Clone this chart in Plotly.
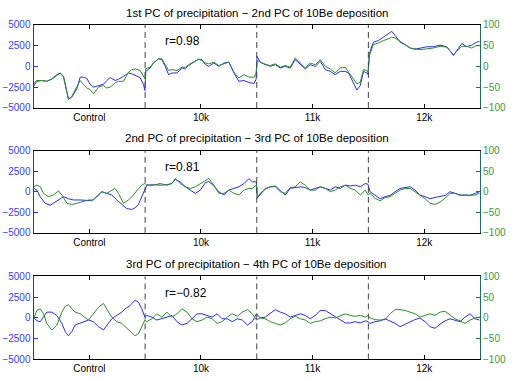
import plotly.graph_objects as go

# ---------------- data ----------------
CATEGORIES = ["Control", "10k", "11k", "12k"]
LEFT_TICKS = [-5000, -2500, 0, 2500, 5000]
RIGHT_TICKS = [-100, -50, 0, 50, 100]
TITLES = ["1st PC of precipitation \u2212 2nd PC of 10Be deposition",
          "2nd PC of precipitation \u2212 3rd PC of 10Be deposition",
          "3rd PC of precipitation \u2212 4th PC of 10Be deposition"]
R_LABELS = ["r=0.98", "r=0.81", "r=\u22120.82"]

# panel 1 (time in segment units: 0-1 Control, 1-2 10k, 2-3 11k, 3-4 12k)
p1_x = [0.0, 0.03, 0.075, 0.12, 0.164, 0.209, 0.239, 0.269, 0.299, 0.313, 0.343, 0.388, 0.418, 0.448, 0.478,
        0.507, 0.537, 0.582, 0.627, 0.657, 0.687, 0.731, 0.761, 0.806, 0.851, 0.881, 0.91, 0.955, 0.985, 0.998,
        1.006, 1.045, 1.075, 1.12, 1.15, 1.18, 1.21, 1.24, 1.285, 1.33, 1.36, 1.39, 1.435, 1.48, 1.51, 1.54,
        1.57, 1.616, 1.66, 1.706, 1.75, 1.796, 1.84, 1.886, 1.93, 1.976, 1.994,
        2.003, 2.031, 2.076, 2.121, 2.166, 2.211, 2.255, 2.3, 2.345, 2.39, 2.435, 2.479, 2.524, 2.569, 2.614,
        2.659, 2.703, 2.748, 2.793, 2.823, 2.867, 2.897, 2.927, 2.957, 2.987, 2.997,
        3.009, 3.045, 3.09, 3.134, 3.179, 3.21, 3.239, 3.284, 3.329, 3.374, 3.418, 3.463, 3.523, 3.582, 3.642,
        3.702, 3.762, 3.806, 3.837, 3.882, 3.926, 3.971, 3.995]
p1_precip = [-2400, -1800, -1700, -1800, -1550, -1050, -800, -1200, -3000, -3900, -3700, -2700, -1300, -1300,
             -1450, -2150, -2500, -2350, -2150, -1700, -1350, -1700, -1550, -1200, -800, -900, -1050, -1350,
             -2150, -2900,
             -600, -200, 400, 900, 800, 0, -1000, -800, -800, -200, -300, 100, 500, 850, 800, 200, 0, 400, 0,
             400, 500, -800, -1800, -1700, -1950, -2050, -1550,
             1200, 500, 200, 0, 200, -200, 0, -200, 800, 200, -300, 200, 0, 600, -400, -600, -1000, -600, -600,
             -800, -1950, -2850, -2300, -600, -800, -1000,
             1550, 2900, 3100, 3500, 3900, 4200, 3700, 2900, 2600, 2200, 2050, 2200, 2350, 2350, 2550, 2350,
             1300, 2150, 2750, 2350, 2550, 2900, 3000]
p1_be = [-42, -34, -34, -36, -30, -20, -16, -26, -62, -80, -72, -50, -34, -44, -52, -56, -66, -50, -46, -52,
         -50, -40, -36, -36, -14, -8, -6, -10, -26, -30,
         -6, -2, 8, 18, 18, 4, -10, -8, -10, -2, -2, 4, 10, 17, 14, 8, 6, 10, 2, 6, 10, -14, -28, -20, -26,
         -26, -16,
         14, 10, 4, 2, 6, -2, 2, -2, 20, 8, -4, 8, 4, 16, 0, -6, -16, -4, -2, -14, -32, -42, -38, -8, -10, -14,
         26, 52, 56, 62, 66, 70, 68, 60, 52, 44, 42, 40, 42, 44, 48, 46, 28, 40, 48, 48, 44, 50, 50]

# panel 2
p2_xb = [0.0, 0.03, 0.06, 0.104, 0.149, 0.179, 0.224, 0.269, 0.313, 0.358, 0.418, 0.478, 0.522, 0.567, 0.612,
         0.657, 0.701, 0.746, 0.791, 0.836, 0.881, 0.91, 0.94, 0.97, 0.998,
         1.015, 1.075, 1.135, 1.195, 1.24, 1.27, 1.315, 1.36, 1.405, 1.45, 1.495, 1.54, 1.57, 1.616, 1.66,
         1.706, 1.75, 1.796, 1.84, 1.886, 1.93, 1.96, 1.997,
         2.005, 2.031, 2.076, 2.121, 2.166, 2.211, 2.255, 2.3, 2.345, 2.39, 2.435, 2.479, 2.524, 2.569, 2.614,
         2.659, 2.703, 2.748, 2.793, 2.838, 2.882, 2.927, 2.972, 2.997,
         3.015, 3.06, 3.105, 3.15, 3.194, 3.239, 3.284, 3.329, 3.374, 3.418, 3.463, 3.508, 3.553, 3.597,
         3.642, 3.687, 3.732, 3.777, 3.821, 3.866, 3.911, 3.956, 3.995]
p2_precip = [400, 200, -600, -1400, -1650, -1400, -1000, -600, -850, -1000, -1000, -1100, -1100, -600, 0,
             -200, -400, -1000, -1550, -2050, -2150, -1950, -1550, -600, 200,
             800, 850, 800, 850, 1000, 1500, 1200, 600, 200, -200, 200, 1100, 1250, 700, 0, -400, 200, 400,
             600, 1000, 1600, 1200, 1200,
             -800, -200, 300, 600, 700, 200, -400, 400, 500, 600, 500, 200, 400, 600, 400, 200, 600, 400, 800,
             700, 800, 600, 1000, 900,
             0, -400, -850, -600, -450, 0, 400, 500, 600, 200, -400, -600, -850, -700, -600, -450, 0, -200,
             -400, -400, -450, -200, 0]
p2_xg = [0.0, 0.03, 0.06, 0.09, 0.134, 0.179, 0.224, 0.254, 0.299, 0.343, 0.388, 0.448, 0.493, 0.537, 0.582,
         0.612, 0.657, 0.701, 0.731, 0.761, 0.806, 0.851, 0.896, 0.94, 0.97, 0.998,
         1.015, 1.075, 1.135, 1.195, 1.24, 1.27, 1.315, 1.36, 1.405, 1.45, 1.495, 1.54, 1.57, 1.616, 1.66,
         1.706, 1.75, 1.796, 1.84, 1.886, 1.93, 1.96, 1.997,
         2.005, 2.031, 2.076, 2.121, 2.166, 2.211, 2.255, 2.3, 2.345, 2.39, 2.435, 2.479, 2.524, 2.569, 2.614,
         2.659, 2.703, 2.748, 2.793, 2.838, 2.882, 2.927, 2.972, 2.997,
         3.015, 3.06, 3.105, 3.15, 3.194, 3.239, 3.284, 3.329, 3.374, 3.418, 3.463, 3.508, 3.553, 3.597,
         3.642, 3.687, 3.732, 3.777, 3.821, 3.866, 3.911, 3.956, 3.995]
p2_be = [12, 16, 12, -4, -12, -8, 2, -8, -28, -31, -28, -24, -20, -20, -8, 0, -4, 4, 8, -4, -28, -20, -8, 8,
         16, 20,
         16, 16, 20, 16, 20, 32, 20, 12, 8, 12, 20, 28, 32, 16, -4, -4, 4, -4, -8, 4, 8, 8, 16,
         -12, -8, 8, 12, 12, 0, -4, 10, 12, 24, 16, 4, 4, 12, 8, 0, 4, 12, 16, 8, 4, -8, 4, -8,
         -4, -16, -22, -14, -12, -4, 4, 8, 8, 0, -8, -17, -28, -31, -25, -16, -4, -4, -9, -9, -8, -8, -4]

# panel 3
p3_x = [0.0, 0.03, 0.06, 0.09, 0.119, 0.164, 0.209, 0.254, 0.284, 0.313, 0.343, 0.373, 0.418, 0.463, 0.493,
        0.537, 0.582, 0.627, 0.657, 0.701, 0.746, 0.791, 0.821, 0.866, 0.91, 0.94, 0.97, 0.998,
        1.015, 1.06, 1.105, 1.15, 1.195, 1.24, 1.285, 1.33, 1.375, 1.42, 1.465, 1.51, 1.556, 1.6, 1.646,
        1.69, 1.736, 1.78, 1.826, 1.87, 1.916, 1.96, 1.997,
        2.031, 2.076, 2.121, 2.166, 2.211, 2.255, 2.3, 2.345, 2.39, 2.435, 2.479, 2.524, 2.569, 2.614, 2.659,
        2.703, 2.748, 2.793, 2.838, 2.882, 2.927, 2.972, 2.997,
        3.015, 3.06, 3.105, 3.15, 3.194, 3.239, 3.284, 3.329, 3.374, 3.418, 3.463, 3.508, 3.553, 3.597,
        3.642, 3.687, 3.732, 3.777, 3.821, 3.866, 3.911, 3.956, 3.995]
p3_precip = [100, -350, -450, 100, 700, 700, 300, -650, -1650, -2150, -1650, -850, -650, -450, -250, -450,
             -1050, -1450, -850, -100, 300, 700, 1100, 1500, 2150, 1900, 1100, 100,
             300, 100, -250, -100, 100, 300, -450, -850, -650, -100, 500, 500, 300, 100, 500, -100, -100,
             -450, -100, -250, -850, -450, 500,
             0, 100, 500, 1000, 700, 500, 100, 300, 500, 300, -100, 300, 900, 900, 500, 100, -200, -600, -600,
             -450, -600, -350, -450,
             -650, -450, -350, -100, -350, -650, -1050, -750, -450, -200, 0, -450, -1050, -1250, -750, -350,
             -100, -250, -450, 100, 500, -100, -250]
p3_be = [-2, 18, 22, 10, -13, -29, -17, 14, 28, 32, 22, 14, 10, 2, -5, 10, 26, 35, 22, 2, -9, -13, -21, -33,
         -43, -38, -21, -5,
         -9, -2, 10, 2, 14, 2, 10, 22, 14, -2, -9, -5, 2, -2, -13, -9, 2, 10, 4, 14, 20, 10, -5,
         0, -2, -9, -13, -17, -12, -2, 4, -2, -5, -13, -9, -7, -2, 2, 0, 6, 10, 6, 4, 6, 2, 6,
         0, -4, -5, -4, 10, 20, 20, 18, 14, 10, 2, 6, 10, 6, 14, 16, 6, -2, -7, -13, -5, 0, 2]

PANELS = [(p1_x, p1_precip, p1_x, p1_be),
          (p2_xb, p2_precip, p2_xg, p2_be),
          (p3_x, p3_precip, p3_x, p3_be)]

# ---------------- styling ----------------
W, H = 527, 379
BLUE = "#2b2bf0"
GREEN = "#2a8f2a"
BLUE_TXT = "#3a3aff"
GREEN_TXT = "#3a9a3a"
RIGHT_LINE = "#1e6e5e"
FONT = "Liberation Sans, Arial, sans-serif"
X_DOM = [33.5 / W, 480.0 / W]
Y_PX = [(19.3, 105.3), (149.3, 234.3), (279.3, 365.0)]

fig = go.Figure()
layout = dict(width=W, height=H, margin=dict(l=0, r=0, t=0, b=0),
              plot_bgcolor="white", paper_bgcolor="white", showlegend=False,
              font=dict(family=FONT, size=10, color="black"))
shapes, annotations = [], []

for i, (xb, yb, xg, yg) in enumerate(PANELS):
    top, bot = Y_PX[i]
    dom = [1 - bot / H, 1 - top / H]
    xa = "x" if i == 0 else f"x{i + 1}"
    ly = 2 * i + 1
    ry = 2 * i + 2
    lyn = "y" if ly == 1 else f"y{ly}"
    ryn = f"y{ry}"
    fig.add_trace(go.Scatter(x=xb, y=yb, mode="lines", xaxis=xa, yaxis=lyn,
                             line=dict(color=BLUE, width=1)))
    fig.add_trace(go.Scatter(x=xg, y=yg, mode="lines", xaxis=xa, yaxis=ryn,
                             line=dict(color=GREEN, width=1)))
    xkey = "xaxis" if i == 0 else f"xaxis{i + 1}"
    lkey = "yaxis" if ly == 1 else f"yaxis{ly}"
    rkey = f"yaxis{ry}"
    layout[xkey] = dict(domain=X_DOM, anchor=lyn, range=[0, 4],
                        tickvals=[0.5, 1.5, 2.5, 3.5], ticktext=CATEGORIES,
                        ticks="inside", ticklen=4, tickcolor="black",
                        showline=True, linecolor="black", linewidth=1, mirror="ticks",
                        showgrid=False, zeroline=False, tickfont=dict(size=10, color="black"))
    layout[lkey] = dict(domain=dom, anchor=xa, range=[-5000, 5000], tickvals=LEFT_TICKS,
                        tickformat="d", ticks="inside", ticklen=4, tickcolor=BLUE,
                        showline=True, linecolor=BLUE, linewidth=1,
                        showgrid=False, zeroline=False, tickfont=dict(size=10, color=BLUE_TXT))
    layout[rkey] = dict(overlaying=lyn, anchor=xa, side="right", range=[-100, 100],
                        tickvals=RIGHT_TICKS, ticks="inside", ticklen=4, tickcolor=RIGHT_LINE,
                        showline=True, linecolor=RIGHT_LINE, linewidth=1,
                        showgrid=False, zeroline=False, tickfont=dict(size=10, color=GREEN_TXT))
    for xv in [1, 2, 3]:
        shapes.append(dict(type="line", xref=xa, yref=f"{lyn} domain", x0=xv, x1=xv, y0=0, y1=1,
                           line=dict(color="#444444", width=1, dash="6px,4px")))
    annotations.append(dict(text=TITLES[i], xref="paper", yref="paper",
                            x=(X_DOM[0] + X_DOM[1]) / 2, y=1 - (top - 12.5) / H,
                            xanchor="center", yanchor="middle", showarrow=False,
                            font=dict(size=11.5, color="black", family=FONT)))
    annotations.append(dict(text=R_LABELS[i], xref=xa, yref="paper", x=1.16,
                            y=1 - (top + 17) / H, xanchor="left", yanchor="middle",
                            showarrow=False, font=dict(size=12, color="black", family=FONT)))

layout["shapes"] = shapes
layout["annotations"] = annotations
fig.update_layout(**layout)
fig.write_html("out.html")
